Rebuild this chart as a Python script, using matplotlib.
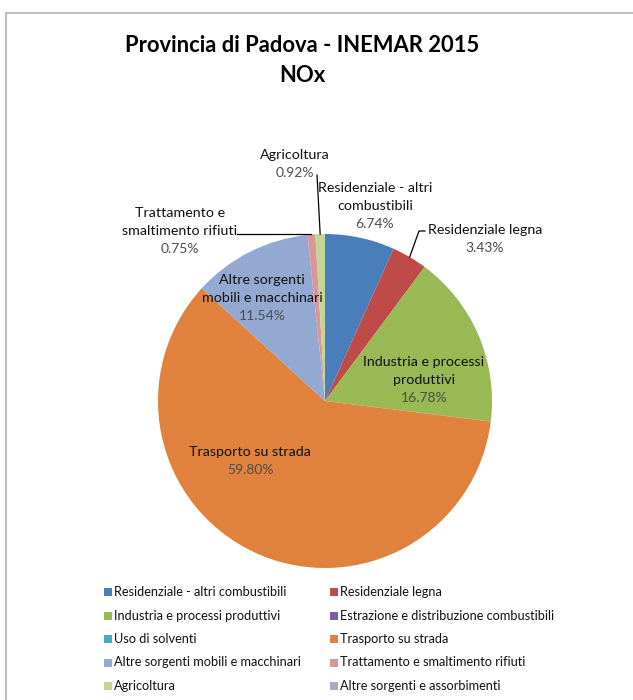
import matplotlib
matplotlib.use('Agg')
import matplotlib.pyplot as plt
import numpy as np
from matplotlib.patches import Rectangle

# data
categories = [
    'Residenziale - altri combustibili',
    'Residenziale legna',
    'Industria e processi produttivi',
    'Estrazione e distribuzione combustibili',
    'Uso di solventi',
    'Trasporto su strada',
    'Altre sorgenti mobili e macchinari',
    'Trattamento e smaltimento rifiuti',
    'Agricoltura',
    'Altre sorgenti e assorbimenti',
]
shares = [6.74, 3.43, 16.78, 0.0, 0.0, 59.80, 11.54, 0.75, 0.92, 0.0]
colors = ['#4A7EBB', '#BE4B48', '#98B954', '#7D60A0', '#46AAC5',
          '#E0823D', '#93A9D2', '#D99694', '#C0D597', '#B3A2C7']

# pie label text (line-broken as in the original) and pixel anchor of the name's first line
label_names = {
    0: 'Residenziale - altri\ncombustibili',
    1: 'Residenziale legna',
    2: 'Industria e processi\nproduttivi',
    5: 'Trasporto su strada',
    6: 'Altre sorgenti\nmobili e macchinari',
    7: 'Trattamento e\nsmaltimento rifiuti',
    8: 'Agricoltura',
}
label_pos = {0: (375, 188), 1: (485, 230), 2: (424, 362), 5: (250, 452),
             6: (262, 280), 7: (180, 213), 8: (295, 155)}
# where the leader line leaves the label (pixels)
leader_start = {1: (425, 231), 7: (237, 234), 8: (317, 175)}

W, H = 633, 700
CX, CY, R = 325, 401, 167
LINE_H = 18

plt.rcParams['font.family'] = ['Lato', 'DejaVu Sans']

fig = plt.figure(figsize=(W / 100, H / 100), dpi=100)


def fx(x):
    return x / W


def fy(y):
    return 1 - y / H


ax = fig.add_axes([fx(CX - R), fy(CY + R), 2 * R / W, 2 * R / H])
wedges, _ = ax.pie(shares, colors=colors, startangle=90, counterclock=False,
                   radius=1, wedgeprops=dict(linewidth=0))
ax.set_xlim(-1, 1)
ax.set_ylim(-1, 1)
ax.axis('off')


def to_data(px, py):
    return (px - CX) / R, (CY - py) / R


# labels
for i, name in label_names.items():
    x, y = label_pos[i]
    n = name.count('\n') + 1
    for k, line in enumerate(name.split('\n')):
        fig.text(fx(x), fy(y + k * LINE_H), line, ha='center', va='center',
                 fontsize=10.3, color='#111111')
    fig.text(fx(x), fy(y + n * LINE_H), f'{shares[i]:.2f}%', ha='center',
             va='center', fontsize=10, color='#4d4d4d')

# leader lines to the small slices
for i, (sx, sy) in leader_start.items():
    w = wedges[i]
    mid = np.deg2rad((w.theta1 + w.theta2) / 2)
    ex, ey = np.cos(mid), np.sin(mid)
    x0, y0 = to_data(sx, sy)
    if i == 7:
        pts = [(x0, y0), (ex, y0)]
    elif i == 1:
        x1, _ = to_data(sx - 6, sy)
        pts = [(x0, y0), (x1, y0), (ex, ey)]
    else:
        pts = [(x0, y0), (ex, ey)]
    xs, ys = zip(*pts)
    ax.plot(xs, ys, color='black', lw=0.9, clip_on=False)

# title
fig.text(fx(302), fy(46), 'Provincia di Padova - INEMAR 2015', ha='center',
         va='center', fontsize=15.8, fontweight='bold', color='black')
fig.text(fx(302), fy(76), 'NOx', ha='center', va='center', fontsize=15.8,
         fontweight='bold', color='black')

# legend, two columns
col_x = [104, 330]
row_y0, row_dy = 592, 23.5
sq = 8
for i, (cat, c) in enumerate(zip(categories, colors)):
    x = col_x[i % 2]
    y = row_y0 + (i // 2) * row_dy
    fig.patches.append(Rectangle((fx(x), fy(y + sq / 2)), sq / W, sq / H,
                                 transform=fig.transFigure, facecolor=c,
                                 edgecolor='none'))
    fig.text(fx(x + sq + 2), fy(y), cat, ha='left', va='center', fontsize=9.2,
             color='#111111')

# chart-area border (top and left visible)
fig.patches.append(Rectangle((fx(6), fy(H + 20)), (W + 20) / W, (H + 7) / H,
                             transform=fig.transFigure, facecolor='none',
                             edgecolor='#BFBFBF', linewidth=1.5))

fig.savefig('out.png', dpi=100)
